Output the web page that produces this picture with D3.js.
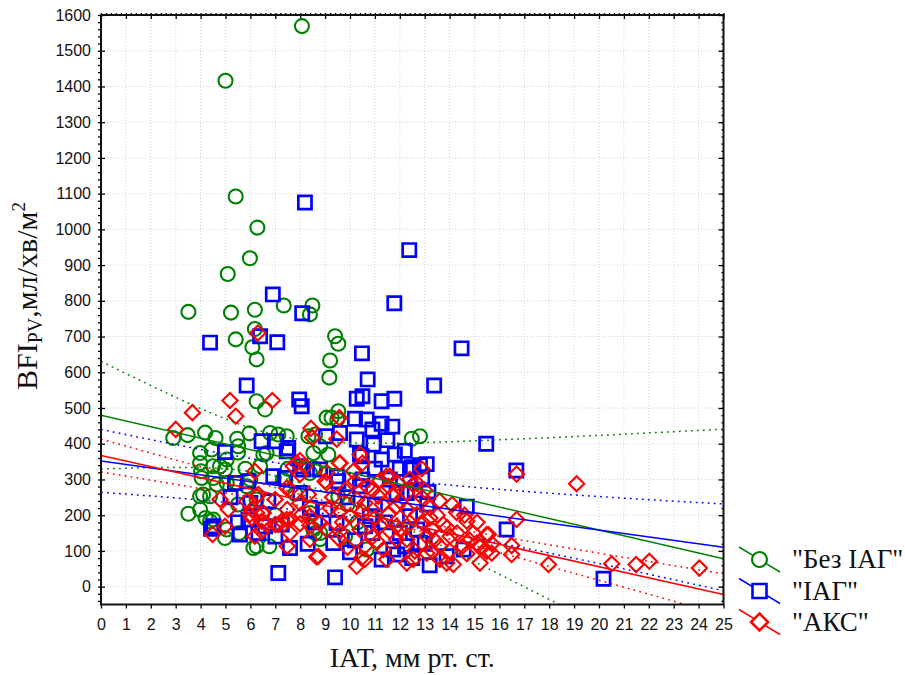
<!DOCTYPE html>
<html>
<head>
<meta charset="utf-8">
<script src="https://cdn.jsdelivr.net/npm/d3@7"></script>
<style>
  body { margin: 0; background: #fff; }
  svg { display: block; }
</style>
</head>
<body>
<svg id="chart" width="905" height="675"></svg>
<script>
// ---- data: IAT (mm Hg) vs BFI_PV (ml/min/m2) for three groups ----
const seriesNames = ['"Без ІАГ"', '"ІАГ"', '"АКС"'];
const seriesColors = ["#008000", "#0000ff", "#ff0000"];
const seriesShapes = ["circle", "square", "diamond"];

const greenPoints = [
  [8.07,1569],[5.0,1416],[5.41,1092],[6.28,1005],[5.98,919],[5.09,875],[3.51,769],[5.22,767],
  [6.18,775],[7.34,787],[8.49,787],[8.39,762],[5.41,692],[6.18,721],[6.08,670],[6.25,636],
  [6.25,519],[6.59,496],[9.4,701],[9.53,680],[9.2,633],[9.17,585],[9.06,473],[9.26,473],
  [9.53,491],[9.49,468],[7.12,426],[7.46,421],[8.33,421],[6.79,430],[8.6,426],[8.8,393],
  [8.53,332],[8.39,206],[8.6,150],[12.48,414],[12.81,421],[2.9,416],[3.48,424],[4.18,431],
  [4.6,416],[5.47,414],[5.96,429],[4.44,384],[5.51,393],[3.98,346],[4.02,323],[4.5,337],
  [4.78,337],[5.05,356],[5.5,375],[3.98,253],[4.38,253],[3.51,204],[3.98,216],[4.2,192],
  [4.51,188],[4.98,136],[5.05,160],[5.55,150],[6.25,113],[6.76,113],[5.85,281],[6.39,337],
  [6.65,374],[6.25,244],[3.98,374],[4.1,258],[4.38,183],[4.04,304],[4.51,304],[4.65,286],
  [5.05,290],[5.45,290],[4.98,328],[6.52,370],[8.53,374],[9.13,370],[8.8,150],[8.6,328],
  [8.39,318],[9.53,253],[8.53,160],[10.67,104],[8.8,133],[6.12,108],[7.3,300],[7.8,260],
  [9.9,230],[10.3,180],[7.0,200],[6.0,300],[5.5,230],[7.5,330],[9.8,140],[5.8,330]
];

const bluePoints = [
  [8.19,1075],[12.38,942],[6.9,818],[8.08,765],[11.78,793],[4.38,683],[6.39,701],[7.08,684],
  [5.85,563],[7.96,524],[8.06,505],[10.48,653],[14.48,667],[13.38,563],[15.47,400],[16.68,325],
  [20.18,22],[7.12,38],[9.4,26],[10.71,580],[10.27,526],[10.5,533],[11.27,519],[11.78,526],
  [10.67,468],[11.27,456],[11.7,448],[10.27,412],[10.94,398],[10.47,365],[11.27,356],[11.8,370],
  [13.08,343],[14.69,224],[16.29,160],[13.15,265],[13.2,60],[12.48,334],[12.81,340],[8.0,337],
  [9.03,421],[9.47,309],[10.0,96],[9.6,430],[6.45,407],[7.03,407],[7.52,388],[4.98,377],
  [5.38,290],[4.51,169],[5.58,146],[5.92,295],[5.92,188],[10.4,370],[7.46,379],[6.92,309],
  [7.39,304],[9.0,216],[8.0,262],[9.53,295],[6.72,239],[6.32,150],[7.59,108],[9.33,122],
  [11.27,76],[10.6,169],[11.74,104],[6.59,169],[8.12,328],[8.8,328],[10.4,281],[11.87,262],
  [10.8,197],[9.46,178],[7.26,174],[8.39,220],[6.0,234],[12.41,328],[14.56,104],[12.21,113],
  [13.88,85],[12.81,122],[12.28,262],[12.41,197],[4.42,162],[5.2,250],[5.5,180],[7.0,140],
  [8.6,180],[9.9,250],[11.0,230],[12.0,150],[10.2,130],[8.3,120],[10.2,470],[10.9,440],
  [11.5,410],[12.2,380],[12.9,300],[11.0,330],[11.6,300],[10.5,300],[12.0,330],[12.6,270],
  [13.1,230],[11.4,180],[12.7,160],[13.0,120],[11.9,90],[12.5,80],[10.9,150]
];

const redPoints = [
  [6.3,710],[5.18,521],[6.88,521],[3.67,487],[5.41,477],[3.0,440],[8.43,443],[8.49,417],
  [9.57,473],[9.47,413],[9.57,346],[10.4,370],[10.5,346],[10.13,323],[9.0,295],[9.06,320],
  [12.88,330],[12.68,290],[11.6,309],[11.2,297],[16.69,315],[19.1,288],[16.69,188],[16.49,115],
  [16.49,90],[17.97,62],[20.51,64],[21.49,62],[22.02,71],[24.03,52],[8.66,83],[10.27,57],
  [10.6,76],[15.49,146],[15.69,94],[15.22,110],[14.28,208],[13.88,66],[12.28,66],[14.95,150],
  [14.69,92],[13.21,220],[13.21,192],[13.75,174],[14.02,141],[12.54,286],[12.28,262],[12.68,202],
  [12.28,169],[12.28,132],[13.08,141],[13.61,113],[14.52,113],[15.09,122],[12.0,160],[15.22,66],
  [14.15,62],[13.61,76],[13.08,94],[12.54,76],[14.69,183],[15.56,146],[15.49,99],
  [6.18,323],[4.78,244],[5.11,216],[4.98,169],[4.48,146],[5.85,239],[6.32,258],[6.05,216],
  [6.05,192],[6.48,206],[6.45,183],[6.45,155],[6.18,141],[6.99,244],[6.99,174],[7.26,183],
  [7.46,276],[7.48,216],[7.46,188],[7.48,113],[7.72,337],[7.99,353],[7.99,314],[8.19,337],
  [7.99,234],[8.06,202],[7.99,176],[8.33,258],[8.39,172],[7.86,346],[9.6,346],[9.06,290],
  [10.2,295],[11.47,309],[11.54,281],[6.25,253],[7.59,272],[9.6,211],[10.27,244],[10.6,234],
  [11.14,253],[11.87,225],[11.54,202],[11.0,192],[10.4,160],[9.6,155],[9.53,136],[8.8,178],
  [8.39,197],[7.59,188],[7.12,174],[6.59,178],[6.25,206],[6.52,206],[8.73,85],[10.47,80],
  [11.47,76],[11.34,104],[10.6,113],[11.87,132],[11.6,155],[8.39,132],[9.06,160],[7.59,150],
  [10.0,197],[11.87,169],[5.98,202],[9.3,250],[10.9,270],[11.3,230],[12.0,240],[9.8,270],
  [10.5,210],[11.7,255],[12.3,215],[13.5,200],[13.9,165],[14.3,150],[12.9,250],[13.4,130],
  [14.8,130],[15.7,120],[9.9,110],[11.1,125],[12.6,100],[13.3,100],[14.0,100],[10.7,280],
  [11.9,290],[12.4,300],[13.0,270],[13.6,240],[14.1,230],[14.6,200],[15.1,180],[13.3,160],
  [12.9,180],[11.2,170],[10.9,140],[9.7,180],[9.2,220]
];

// linear fit per group: BFI = intercept + slope * IAT
const fitIntercept = [480, 352, 367];
const fitSlope = [-16.08, -9.68, -15.56];
// 95% confidence band half-width: sqrt(halfMin^2 + spread^2 * (IAT - center)^2)
const bandCenter = [7.0, 9.44, 11.0];
const bandHalfMin = [57.6, 60.6, 10];
const bandSpread = [19.9, 6.77, 4.07];

const xTicks = d3.range(0, 26, 1);
const yTicks = d3.range(0, 1601, 100);

// ---- layout ----
const svg = d3.select("#chart");
const plot = { left: 101, right: 723.5, top: 15, bottom: 604.5 };
const x = d3.scaleLinear().domain([0, 25]).range([plot.left, plot.right]);
const y = d3.scaleLinear().domain([-50, 1600]).range([plot.bottom, plot.top]);

svg.append("defs").append("clipPath").attr("id", "plotClip")
  .append("rect")
  .attr("x", plot.left).attr("y", plot.top)
  .attr("width", plot.right - plot.left).attr("height", plot.bottom - plot.top);

// grid
const grid = svg.append("g").attr("stroke", "#d4d4d4").attr("stroke-width", 1)
  .attr("stroke-dasharray", "1,2");
grid.selectAll("line.gx").data(xTicks.slice(1, -1)).join("line")
  .attr("x1", d => x(d)).attr("x2", d => x(d))
  .attr("y1", plot.top).attr("y2", plot.bottom);
grid.selectAll("line.gy").data(yTicks).join("line")
  .attr("x1", plot.left).attr("x2", plot.right)
  .attr("y1", d => y(d)).attr("y2", d => y(d));

// axes
const tickFont = "'Liberation Sans', Arial, sans-serif";
function styleAxis(g) {
  g.select(".domain").remove();
  g.selectAll(".tick line").attr("stroke", "#000").attr("stroke-width", 1.3);
  g.selectAll("text").attr("font-family", tickFont).attr("font-size", 16).attr("fill", "#111");
}
svg.append("g").attr("transform", `translate(${plot.left},0)`)
  .call(d3.axisLeft(y).tickValues(yTicks).tickSize(-4).tickPadding(10).tickFormat(d3.format("d")))
  .call(styleAxis);
svg.append("g").attr("transform", `translate(${plot.left},0)`)
  .call(d3.axisLeft(y).tickValues(d3.range(-40, 1601, 20)).tickSize(3).tickFormat(""))
  .call(styleAxis);
svg.append("g").attr("transform", `translate(0,${plot.bottom})`)
  .call(d3.axisBottom(x).tickValues(xTicks).tickSize(4).tickPadding(10).tickFormat(d3.format("d")))
  .call(styleAxis);
svg.append("g").attr("transform", `translate(0,${plot.top})`)
  .call(d3.axisTop(x).tickValues(xTicks).tickSize(-4).tickFormat(""))
  .call(styleAxis);
svg.append("g").attr("transform", `translate(0,${plot.top})`)
  .call(d3.axisTop(x).tickValues(d3.range(0, 25.01, 0.2)).tickSize(2).tickFormat(""))
  .call(styleAxis);
svg.append("g").attr("transform", `translate(${plot.right},0)`)
  .call(d3.axisRight(y).tickValues(yTicks).tickSize(-5).tickFormat(""))
  .call(styleAxis);
svg.append("g").attr("transform", `translate(${plot.right},0)`)
  .call(d3.axisRight(y).tickValues(d3.range(-40, 1601, 20)).tickSize(-2).tickFormat(""))
  .call(styleAxis);

// markers (hollow)
const squarePath = "M-6.6,-6.6H6.6V6.6H-6.6Z";
const diamondPath = "M0,-7.6L7.6,0L0,7.6L-7.6,0Z";
const circleR = 7;

const allSeries = [greenPoints, bluePoints, redPoints];
const pts = svg.append("g");
allSeries.forEach((data, i) => {
  const g = pts.append("g")
    .attr("fill", "none")
    .attr("stroke", seriesColors[i]);
  if (seriesShapes[i] === "circle") {
    g.attr("stroke-width", 2.1).selectAll("circle").data(data).join("circle")
      .attr("cx", d => x(d[0])).attr("cy", d => y(d[1])).attr("r", circleR);
  } else {
    const pathD = seriesShapes[i] === "square" ? squarePath : diamondPath;
    g.attr("stroke-width", seriesShapes[i] === "square" ? 2.7 : 2.1)
      .selectAll("path").data(data).join("path")
      .attr("transform", d => `translate(${x(d[0])},${y(d[1])})`)
      .attr("d", pathD);
  }
});

// fit lines and confidence bands
const xs = d3.range(0, 25.001, 0.1);
const lines = svg.append("g").attr("clip-path", "url(#plotClip)").attr("fill", "none");
const lineGen = d3.line().x(d => x(d[0])).y(d => y(d[1]));
seriesNames.forEach((_, i) => {
  const fit = v => fitIntercept[i] + fitSlope[i] * v;
  const half = v => Math.sqrt(bandHalfMin[i] ** 2 + bandSpread[i] ** 2 * (v - bandCenter[i]) ** 2);
  [1, -1].forEach(sgn => {
    lines.append("path")
      .attr("d", lineGen(xs.map(v => [v, fit(v) + sgn * half(v)])))
      .attr("stroke", seriesColors[i]).attr("stroke-width", 1.5)
      .attr("stroke-dasharray", "1.8,4.2");
  });
  lines.append("path")
    .attr("d", lineGen([[0, fit(0)], [25, fit(25)]]))
    .attr("stroke", seriesColors[i]).attr("stroke-width", 1.5);
});

// frame
svg.append("rect")
  .attr("x", plot.left).attr("y", plot.top)
  .attr("width", plot.right - plot.left).attr("height", plot.bottom - plot.top)
  .attr("fill", "none").attr("stroke", "#111").attr("stroke-width", 2);

// axis titles
const serif = "'Liberation Serif', 'Times New Roman', serif";
svg.append("text")
  .attr("x", (plot.left + plot.right) / 2).attr("y", 667)
  .attr("text-anchor", "middle")
  .attr("font-family", serif).attr("font-size", 28).attr("fill", "#111")
  .text("ІАТ, мм рт. ст.");

const yTitle = svg.append("text")
  .attr("transform", "translate(37,296) rotate(-90)")
  .attr("text-anchor", "middle")
  .attr("font-family", serif).attr("font-size", 30).attr("fill", "#111");
yTitle.append("tspan").text("BFI");
yTitle.append("tspan").attr("font-size", 20).attr("dy", 5).text("PV");
yTitle.append("tspan").attr("dy", -5).text(",мл/хв/м");
yTitle.append("tspan").attr("font-size", 19).attr("dy", -12).text("2");

// legend
const legendY = [559.5, 591, 622];
const legend = svg.append("g");
seriesNames.forEach((name, i) => {
  const cy = legendY[i];
  const g = legend.append("g").attr("transform", `translate(759.5,${cy})`);
  g.append("line").attr("x1", -20.5).attr("y1", -12.5).attr("x2", 20.5).attr("y2", 12.5)
    .attr("stroke", seriesColors[i]).attr("stroke-width", 1.5);
  if (seriesShapes[i] === "circle") {
    g.append("circle").attr("r", 7.5).attr("fill", "#fff")
      .attr("stroke", seriesColors[i]).attr("stroke-width", 2.2);
  } else {
    g.append("path").attr("d", seriesShapes[i] === "square" ? "M-7,-7H7V7H-7Z" : "M0,-8.5L8.5,0L0,8.5L-8.5,0Z")
      .attr("fill", "#fff").attr("stroke", seriesColors[i]).attr("stroke-width", 2.6);
  }
  legend.append("text")
    .attr("x", 792).attr("y", cy + 8.5)
    .attr("font-family", serif).attr("font-size", 27).attr("fill", "#111")
    .text(name);
});
</script>
</body>
</html>
